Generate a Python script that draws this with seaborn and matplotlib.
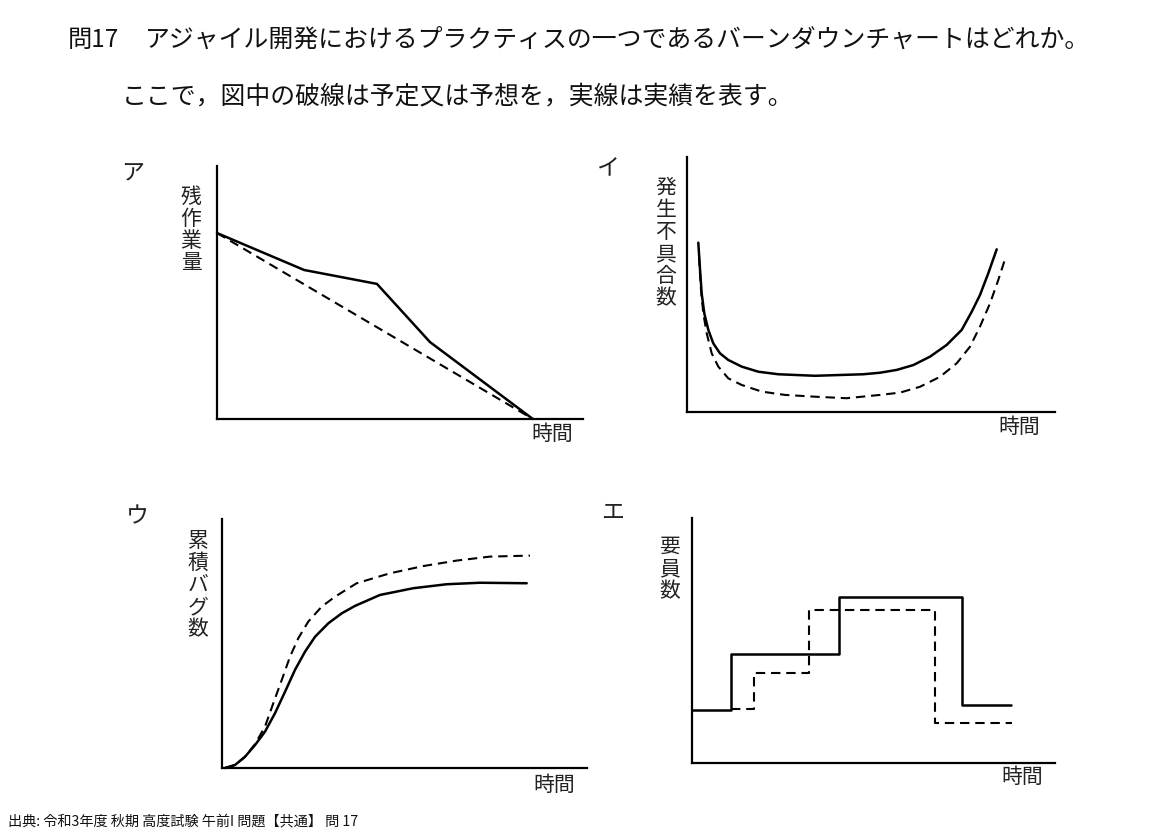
import matplotlib
matplotlib.use("Agg")
import matplotlib.pyplot as plt
import seaborn as sns

sns.set_theme(style="white")
plt.rcParams['font.family'] = ['Noto Sans CJK JP', 'DejaVu Sans']

W, H = 1152, 838

# ---- data (axis-relative units, 0-100) ----
# ア: burndown
a_x_actual = [0, 23.8, 43.7, 58.2, 86.3]
a_y_actual = [73.5, 58.9, 53.4, 30.4, 0.0]
a_x_plan = [0, 86.3]
a_y_plan = [73.5, 0.0]

# イ: defects (bathtub)
i_x_actual = [3.07, 3.53, 3.99, 4.70, 5.79, 7.15, 8.97, 11.22, 14.86, 19.38,
              24.81, 34.78, 47.91, 52.45, 56.98, 61.49, 66.03, 70.57, 74.65,
              77.36, 79.62, 81.87, 84.16]
i_y_actual = [66.4, 56.1, 46.5, 38.7, 32.2, 26.9, 23.0, 20.4, 17.8, 15.8,
              14.8, 14.2, 14.8, 15.4, 16.5, 18.4, 21.7, 26.3, 32.2,
              39.3, 45.9, 54.4, 63.8]
i_x_plan = [3.26, 3.80, 4.43, 5.35, 6.71, 8.51, 11.22, 14.86, 20.30, 26.63,
            34.78, 43.40, 52.45, 57.88, 63.32, 68.75, 73.29, 76.90, 79.62,
            82.34, 84.59, 86.41]
i_y_plan = [60.9, 47.8, 38.7, 30.9, 23.0, 17.8, 13.2, 10.6, 8.0, 6.7,
            6.0, 5.4, 6.7, 7.6, 9.9, 13.8, 19.1, 25.6, 33.5,
            42.6, 51.8, 59.9]

# ウ: cumulative bugs
u_x_actual = [0.82, 3.56, 6.30, 9.04, 11.78, 14.52, 17.26, 20.0, 22.74, 25.48,
              29.12, 32.79, 36.44, 43.29, 52.41, 61.56, 70.68, 83.48]
u_y_actual = [0.0, 1.2, 4.5, 9.2, 14.6, 22.0, 30.6, 39.4, 46.7, 52.7,
              58.1, 62.1, 65.1, 69.5, 72.2, 73.8, 74.4, 74.2]
u_x_plan = [0.82, 3.56, 6.30, 9.04, 11.78, 14.05, 16.36, 18.63, 20.90, 23.64,
            27.32, 30.96, 36.90, 46.03, 55.15, 64.30, 73.42, 84.38]
u_y_plan = [0.0, 1.2, 4.5, 9.6, 16.6, 26.0, 35.3, 44.7, 52.1, 58.8,
            64.8, 68.8, 74.2, 78.2, 81.1, 83.3, 84.9, 85.3]

# エ: staffing (steps)
e_x_actual = [0, 10.7, 40.6, 74.5, 87.9]
e_y_actual = [21.6, 44.4, 67.9, 23.7, 23.7]
e_x_plan = [10.7, 17.2, 32.3, 66.9, 88.1]
e_y_plan = [22.0, 36.9, 62.4, 16.2, 16.2]

panel_letters = ['ア', 'イ', 'ウ', 'エ']
y_labels = ['残作業量', '発生不具合数', '累積バグ数', '要員数']
x_label = '時間'

# ---- layout (pixel boxes: left, right, bottom, top) ----
boxes = [(217, 583, 419, 166), (687, 1055, 412, 157),
         (222, 587, 768, 519), (692, 1055, 763, 518)]
letter_pos = [(133, 173), (607, 169), (137, 517), (612, 512)]
ylab_pos = [(191, 230), (666, 243), (198, 585), (670, 569)]
xlab_pos = [(552, 434), (1019, 427), (554, 785), (1022, 777)]

fig = plt.figure(figsize=(W / 100, H / 100), dpi=100)
fig.patch.set_facecolor('white')

def fx(px):
    return px / W

def fy(py):
    return 1 - py / H

series = [
    (a_x_actual, a_y_actual, a_x_plan, a_y_plan, None),
    (i_x_actual, i_y_actual, i_x_plan, i_y_plan, None),
    (u_x_actual, u_y_actual, u_x_plan, u_y_plan, None),
    (e_x_actual, e_y_actual, e_x_plan, e_y_plan, 'steps-post'),
]

lw = 1.5
dash = (0, (4.5, 2.8))
for k, (box, (xa, ya, xp, yp, ds)) in enumerate(zip(boxes, series)):
    l, r, b, t = box
    ax = fig.add_axes([fx(l), fy(b), (r - l) / W, (b - t) / H])
    ax.set_xlim(0, 100)
    ax.set_ylim(0, 100)
    kw = {}
    if ds:
        kw['drawstyle'] = ds
    sns.lineplot(x=xp, y=yp, ax=ax, color='black', linewidth=lw,
                 linestyle=dash, sort=False, clip_on=False, **kw)
    sns.lineplot(x=xa, y=ya, ax=ax, color='black', linewidth=lw + 0.3,
                 sort=False, clip_on=False, **kw)
    for s in ['top', 'right']:
        ax.spines[s].set_visible(False)
    for s in ['left', 'bottom']:
        ax.spines[s].set_color('black')
        ax.spines[s].set_linewidth(1.6)
    ax.set_xticks([])
    ax.set_yticks([])
    ax.set_xlabel('')
    ax.set_ylabel('')
    ax.set_facecolor('none')

    lx, ly = letter_pos[k]
    fig.text(fx(lx), fy(ly), panel_letters[k], fontsize=16.5, ha='center',
             va='center', color='#222222')
    yx, yy = ylab_pos[k]
    fig.text(fx(yx), fy(yy), '\n'.join(y_labels[k]), fontsize=15, ha='center',
             va='center', linespacing=1.0, color='#222222')
    xx, xy = xlab_pos[k]
    fig.text(fx(xx), fy(xy), x_label, fontsize=15, ha='center', va='center',
             color='#222222')

fig.text(fx(68), fy(40), '問17', fontsize=17.5, ha='left', va='center', color='#111111')
fig.text(fx(145), fy(40), 'アジャイル開発におけるプラクティスの一つであるバーンダウンチャートはどれか。',
         fontsize=17.9, ha='left', va='center', color='#111111')
fig.text(fx(122), fy(97), 'ここで，図中の破線は予定又は予想を，実線は実績を表す。',
         fontsize=17.9, ha='left', va='center', color='#111111')
fig.text(fx(8), fy(821), '出典: 令和3年度 秋期 高度試験 午前I 問題【共通】 問 17',
         fontsize=10.2, ha='left', va='center', color='#111111')

fig.savefig('out.png', dpi=100, facecolor='white')
